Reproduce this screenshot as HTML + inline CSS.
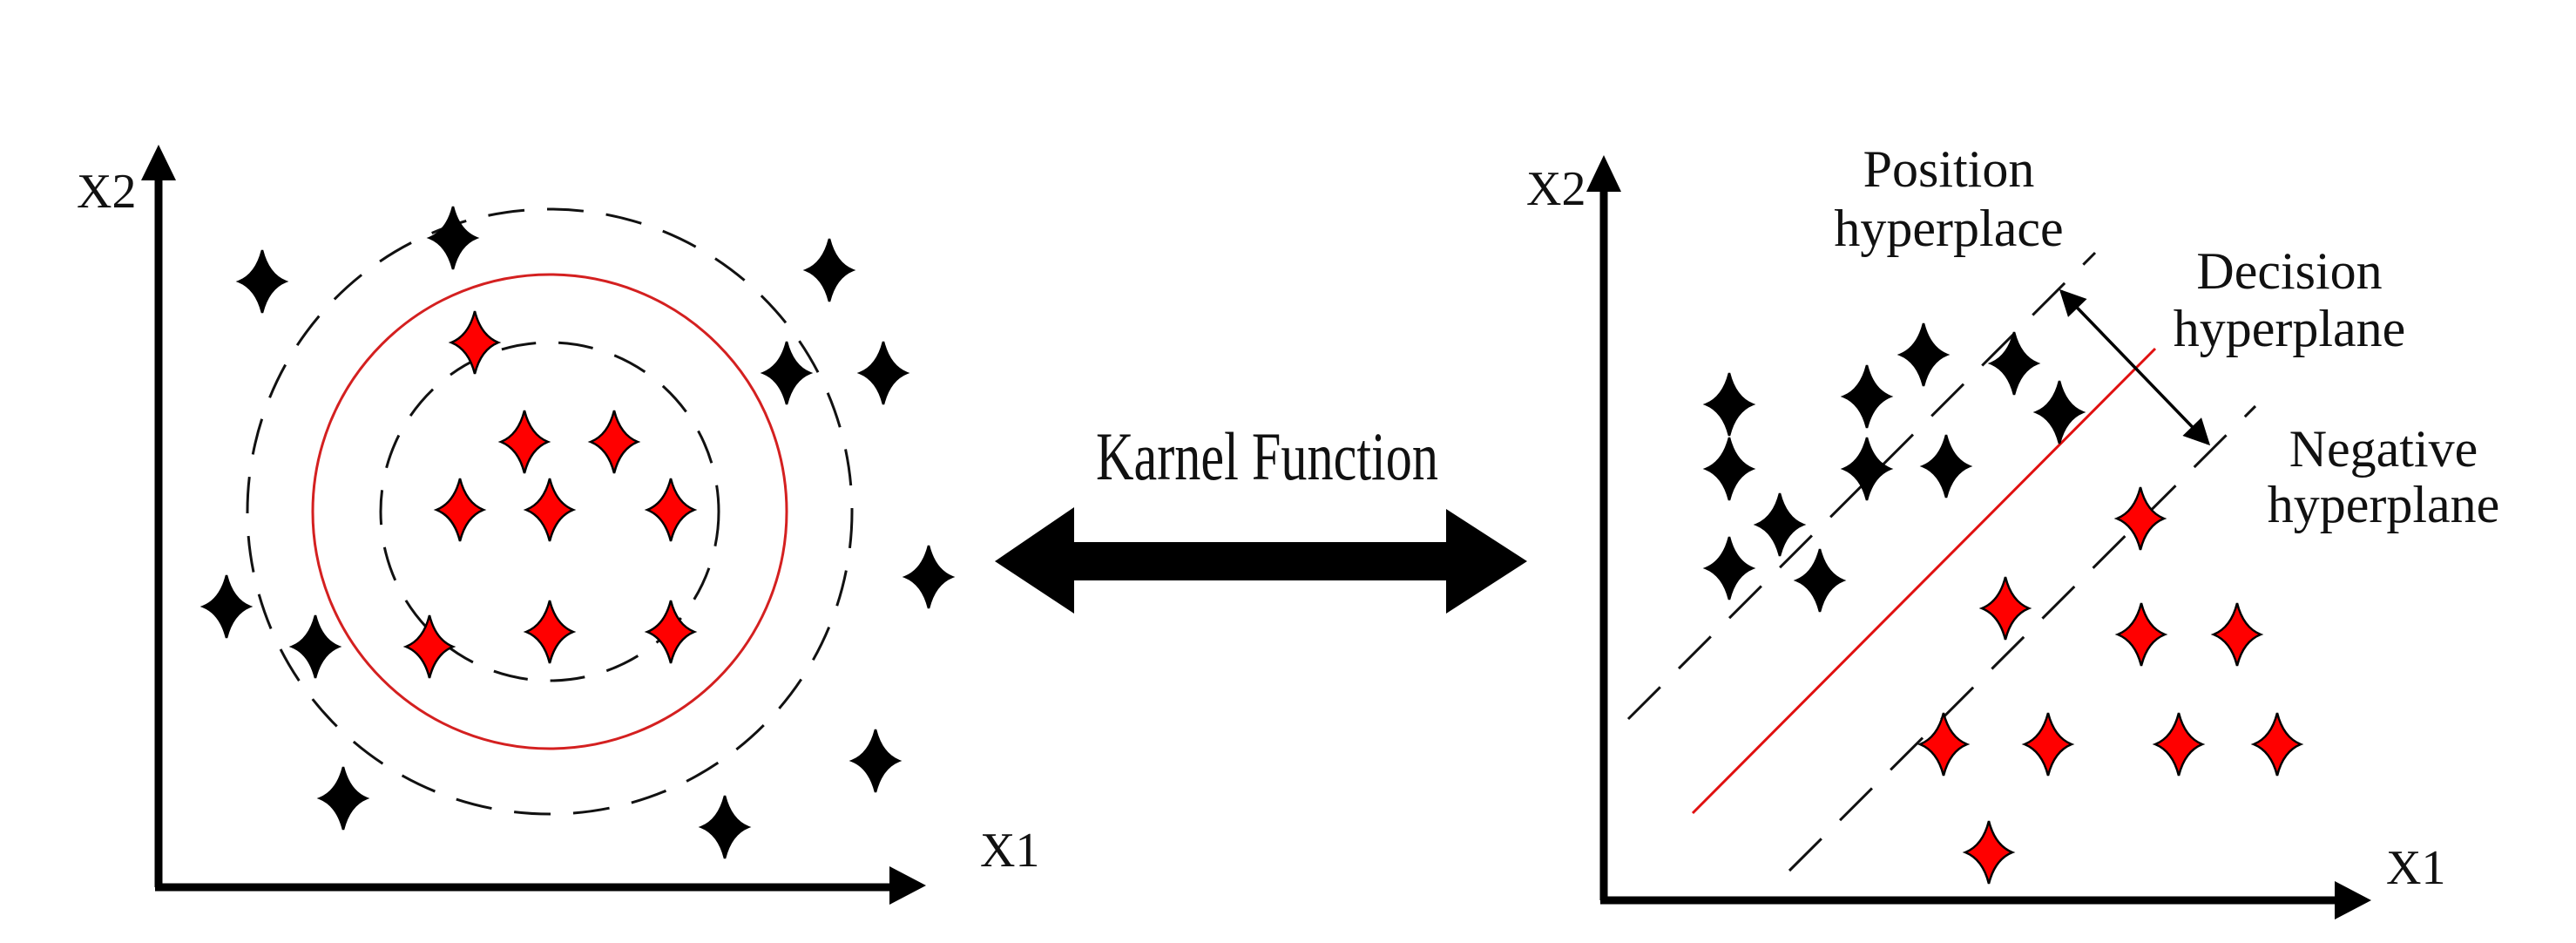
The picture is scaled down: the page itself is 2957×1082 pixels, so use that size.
<!DOCTYPE html>
<html><head><meta charset="utf-8"><style>
html,body{margin:0;padding:0;background:#fff;}
svg{display:block;}
text{font-family:"Liberation Serif",serif;fill:#111;}
</style></head><body>
<svg width="2957" height="1082" viewBox="0 0 2957 1082" xmlns="http://www.w3.org/2000/svg">
<defs>
<path id="s" d="M0,-36 Q7,-8 27,0 Q7,8 0,36 Q-7,8 -27,0 Q-7,-8 0,-36 Z" stroke="#000" stroke-width="2.5"/>
<marker id="ah2" viewBox="0 0 10 10" refX="9" refY="5" markerWidth="34" markerHeight="30" markerUnits="userSpaceOnUse" orient="auto-start-reverse">
<path d="M0,0 L10,5 L0,10 Z" fill="#000"/></marker>
</defs>
<line x1="182" y1="1018" x2="182" y2="200" stroke="#000" stroke-width="9"/>
<polygon points="182,166 162,207 202,207" fill="#000"/>
<line x1="178" y1="1018" x2="1025" y2="1018" stroke="#000" stroke-width="9"/>
<polygon points="1063,1016 1021,994 1021,1038" fill="#000"/>
<text x="88" y="238" font-size="56">X2</text>
<text x="1125" y="994" font-size="56">X1</text>
<circle cx="631" cy="587" r="347" fill="none" stroke="#111" stroke-width="3" stroke-dasharray="42 26"/>
<circle cx="631" cy="587" r="272" fill="none" stroke="#d42020" stroke-width="3"/>
<circle cx="631" cy="587" r="194" fill="none" stroke="#111" stroke-width="3" stroke-dasharray="40 26"/>
<g fill="#000">
<use href="#s" x="301" y="323"/><use href="#s" x="520" y="273"/><use href="#s" x="952" y="310"/>
<use href="#s" x="903" y="428"/><use href="#s" x="1014" y="428"/><use href="#s" x="260" y="696"/>
<use href="#s" x="362" y="742"/><use href="#s" x="1066" y="662"/><use href="#s" x="1005" y="873"/>
<use href="#s" x="394" y="916"/><use href="#s" x="832" y="949"/>
</g>
<g fill="#f00">
<use href="#s" x="545" y="393"/><use href="#s" x="602" y="507"/><use href="#s" x="705" y="507"/>
<use href="#s" x="528" y="585"/><use href="#s" x="631" y="585"/><use href="#s" x="770" y="585"/>
<use href="#s" x="493" y="742"/><use href="#s" x="631" y="725"/><use href="#s" x="770" y="725"/>
</g>
<text x="1258" y="550" font-size="78" textLength="393" lengthAdjust="spacingAndGlyphs">Karnel Function</text>
<polygon points="1142,644 1233,582 1233,622 1660,622 1660,584 1753,644 1660,704 1660,666 1233,666 1233,704" fill="#000"/>
<line x1="1841" y1="1033" x2="1841" y2="210" stroke="#000" stroke-width="9"/>
<polygon points="1841,178 1821,220 1861,220" fill="#000"/>
<line x1="1837" y1="1033" x2="2685" y2="1033" stroke="#000" stroke-width="9"/>
<polygon points="2722,1033 2680,1011 2680,1055" fill="#000"/>
<text x="1752" y="235" font-size="56">X2</text>
<text x="2739" y="1014" font-size="56">X1</text>
<g font-size="60" text-anchor="middle">
<text x="2237" y="214">Position</text>
<text x="2237" y="282">hyperplace</text>
<text x="2628" y="331">Decision</text>
<text x="2628" y="397">hyperplane</text>
<text x="2736" y="535">Negative</text>
<text x="2736" y="599">hyperplane</text>
</g>
<line x1="1869" y1="825" x2="2405" y2="290" stroke="#111" stroke-width="3" stroke-dasharray="52 30"/>
<line x1="2054" y1="999" x2="2589" y2="466" stroke="#111" stroke-width="3" stroke-dasharray="52 30"/>
<line x1="1943" y1="933" x2="2474" y2="400" stroke="#e01010" stroke-width="3"/>
<line x1="2366" y1="334" x2="2535" y2="509" stroke="#000" stroke-width="3.5" marker-start="url(#ah2)" marker-end="url(#ah2)"/>
<g fill="#000">
<use href="#s" x="1985" y="464"/><use href="#s" x="1985" y="538"/><use href="#s" x="2143" y="455"/>
<use href="#s" x="2208" y="407"/><use href="#s" x="2312" y="417"/><use href="#s" x="2364" y="473"/>
<use href="#s" x="2143" y="538"/><use href="#s" x="2234" y="535"/><use href="#s" x="2043" y="602"/>
<use href="#s" x="1985" y="652"/><use href="#s" x="2089" y="666"/>
</g>
<g fill="#f00">
<use href="#s" x="2457" y="595"/><use href="#s" x="2302" y="698"/><use href="#s" x="2458" y="728"/>
<use href="#s" x="2568" y="728"/><use href="#s" x="2231" y="854"/><use href="#s" x="2351" y="854"/>
<use href="#s" x="2501" y="854"/><use href="#s" x="2614" y="854"/><use href="#s" x="2283" y="978"/>
</g>
</svg>
</body></html>
